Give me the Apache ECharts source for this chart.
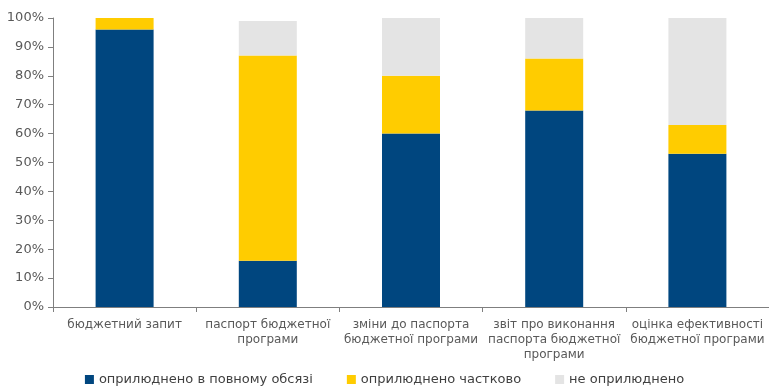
<!DOCTYPE html>
<html lang="uk">
<head>
    <meta charset="UTF-8">
    <title>chart</title>
    <script src="https://cdn.jsdelivr.net/npm/echarts@6/dist/echarts.min.js"></script>
    <style>
        html, body { margin: 0; padding: 0; background: #fff; }
        #main { width: 769px; height: 391px; }
    </style>
</head>
<body>
<div id="main"></div>
<script>
    // categories and shares (%)
    var categories = ['бюджетний запит', 'паспорт бюджетної\nпрограми', 'зміни до паспорта\nбюджетної програми',
        'звіт про виконання\nпаспорта бюджетної\nпрограми', 'оцінка ефективності\nбюджетної програми'];
    var fullData = [96, 16, 60, 68, 53];
    var partialData = [4, 71, 20, 18, 10];
    var noneData = [0, 12, 20, 14, 37];
    var yTicks = [0, 10, 20, 30, 40, 50, 60, 70, 80, 90, 100];

    var font = 'DejaVu Sans';
    var myChart = echarts.init(document.getElementById('main'));

    myChart.setOption({
        animation: false,
        textStyle: { fontFamily: font },
        grid: { left: 53, right: 0, top: 18, bottom: 84 },
        legend: {
            bottom: 0,
            left: 'center',
            itemWidth: 9,
            itemHeight: 9,
            itemGap: 34,
            icon: 'rect',
            textStyle: { fontFamily: font, fontSize: 13, color: '#404040' },
            data: ['оприлюднено в повному обсязі', 'оприлюднено частково', 'не оприлюднено']
        },
        xAxis: {
            type: 'category',
            data: categories,
            axisLine: { lineStyle: { color: '#7f7f7f' } },
            axisTick: { show: true, alignWithLabel: false, length: 5, lineStyle: { color: '#7f7f7f' } },
            axisLabel: { color: '#595959', fontSize: 12, lineHeight: 15, margin: 10, interval: 0 }
        },
        yAxis: {
            type: 'value',
            min: yTicks[0],
            max: yTicks[yTicks.length - 1],
            interval: 10,
            splitLine: { show: false },
            axisLine: { show: true, lineStyle: { color: '#7f7f7f' } },
            axisTick: { show: true, length: 5, lineStyle: { color: '#7f7f7f' } },
            axisLabel: { color: '#595959', fontSize: 13, margin: 9, formatter: '{value}%' }
        },
        series: [
            { name: 'оприлюднено в повному обсязі', type: 'bar', stack: 'a', barWidth: 58,
              itemStyle: { color: '#00467f' }, data: fullData },
            { name: 'оприлюднено частково', type: 'bar', stack: 'a', barWidth: 58,
              itemStyle: { color: '#ffcc00' }, data: partialData },
            { name: 'не оприлюднено', type: 'bar', stack: 'a', barWidth: 58,
              itemStyle: { color: '#e4e4e4' }, data: noneData }
        ]
    });
</script>
</body>
</html>
